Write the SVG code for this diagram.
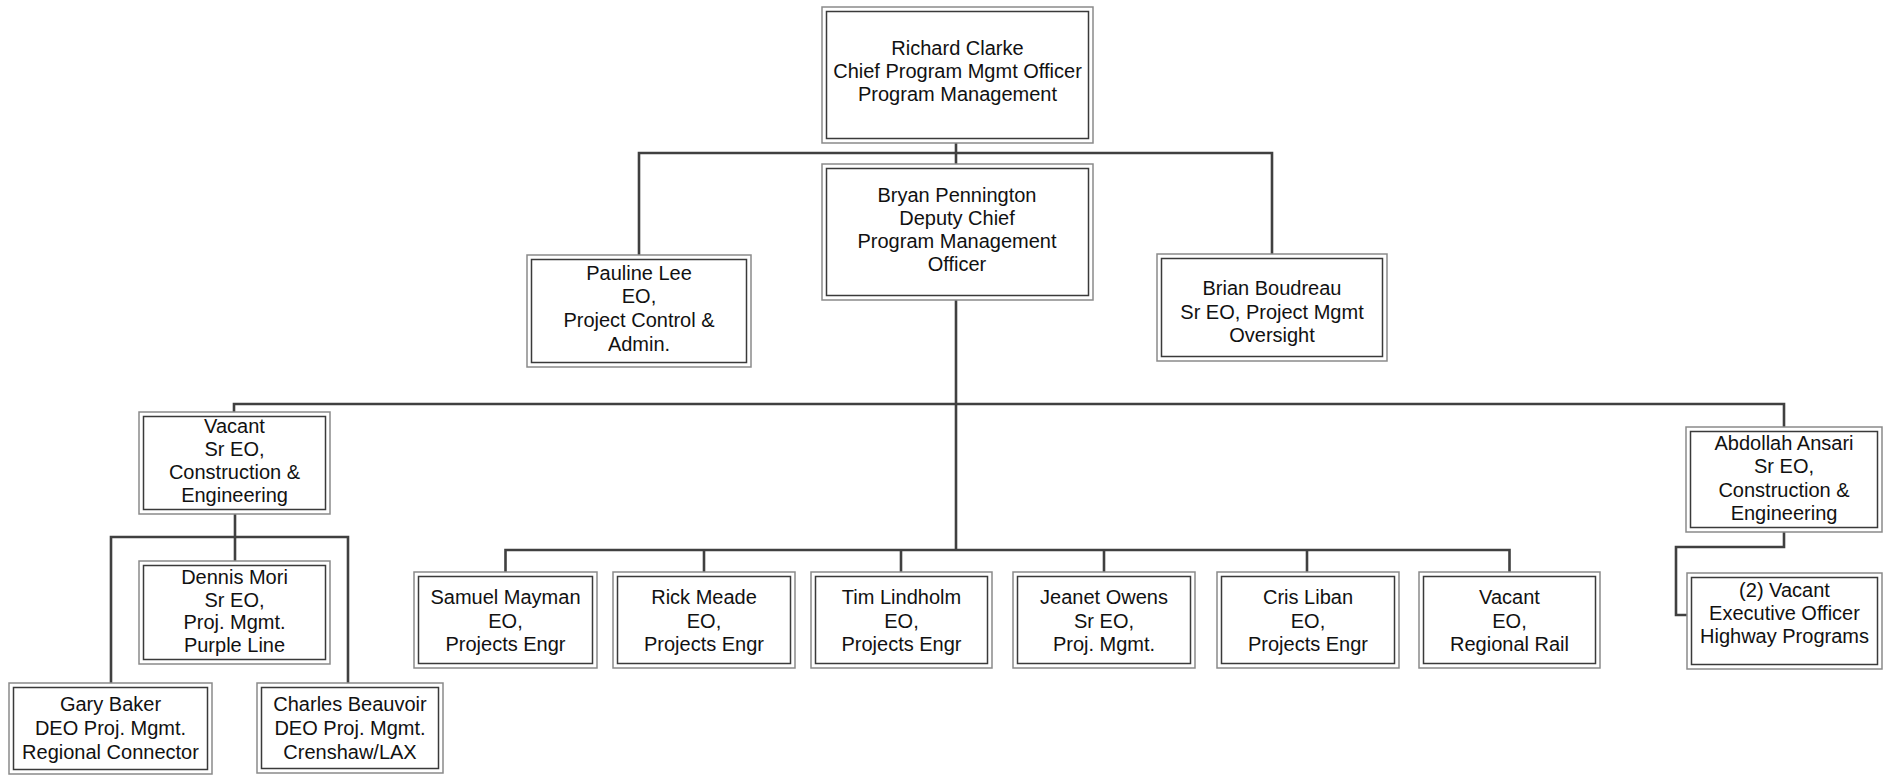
<svg xmlns="http://www.w3.org/2000/svg" width="1887" height="775" viewBox="0 0 1887 775">
<style>
.o{fill:#fff;stroke:#8a8a8a;stroke-width:1.5}
.i{fill:none;stroke:#3a3a3a;stroke-width:1.5}
text{font-family:"Liberation Sans",Arial,sans-serif;font-size:20px;fill:#111;text-anchor:middle}
.c{fill:none;stroke:#404040;stroke-width:2.6}
</style>
<rect width="1887" height="775" fill="#fff"/>
<g id="connectors">
<path class="c" d="M956 143V164M639 255V153H1272V254"/>
<path class="c" d="M956 300V550M234 412V404H1784V427"/>
<path class="c" d="M505.5 572V550H1509.5V572M704 550V572M901 550V572M1104 550V572M1307 550V572"/>
<path class="c" d="M235 514V561M111 683V537H348V683"/>
<path class="c" d="M1784 532V547H1676V615H1687"/>
</g>
<g id="clarke"><rect class="o" x="822" y="7" width="271" height="136"/><rect class="i" x="826.5" y="11.5" width="262" height="127"/>
<text x="957.5" y="55">Richard Clarke</text><text x="957.5" y="78">Chief Program Mgmt Officer</text><text x="957.5" y="101">Program Management</text></g>
<g id="pennington"><rect class="o" x="822" y="164" width="271" height="136"/><rect class="i" x="826.5" y="168.5" width="262" height="127"/>
<text x="957" y="201.5">Bryan Pennington</text><text x="957" y="224.5">Deputy Chief</text><text x="957" y="247.5">Program Management</text><text x="957" y="271">Officer</text></g>
<g id="lee"><rect class="o" x="527" y="255" width="224" height="112"/><rect class="i" x="531.5" y="259.5" width="215" height="103"/>
<text x="639" y="279.5">Pauline Lee</text><text x="639" y="303">EO,</text><text x="639" y="327">Project Control &amp;</text><text x="639" y="351">Admin.</text></g>
<g id="boudreau"><rect class="o" x="1157" y="254" width="230" height="107"/><rect class="i" x="1161.5" y="258.5" width="221" height="98"/>
<text x="1272" y="295">Brian Boudreau</text><text x="1272" y="318.5">Sr EO, Project Mgmt</text><text x="1272" y="342">Oversight</text></g>
<g id="vacant-ce"><rect class="o" x="139" y="412" width="191" height="102"/><rect class="i" x="143.5" y="416.5" width="182" height="93"/>
<text x="234.5" y="432.5">Vacant</text><text x="234.5" y="455.8">Sr EO,</text><text x="234.5" y="479">Construction &amp;</text><text x="234.5" y="502.3">Engineering</text></g>
<g id="ansari"><rect class="o" x="1686" y="427" width="196" height="105"/><rect class="i" x="1690.5" y="431.5" width="187" height="96"/>
<text x="1784" y="450">Abdollah Ansari</text><text x="1784" y="473.3">Sr EO,</text><text x="1784" y="496.7">Construction &amp;</text><text x="1784" y="520">Engineering</text></g>
<g id="mori"><rect class="o" x="139" y="561" width="191" height="103"/><rect class="i" x="143.5" y="565.5" width="182" height="94"/>
<text x="234.5" y="584">Dennis Mori</text><text x="234.5" y="606.7">Sr EO,</text><text x="234.5" y="629.3">Proj. Mgmt.</text><text x="234.5" y="652">Purple Line</text></g>
<g id="baker"><rect class="o" x="9" y="683" width="203" height="91"/><rect class="i" x="13.5" y="687.5" width="194" height="82"/>
<text x="110.5" y="711">Gary Baker</text><text x="110.5" y="735">DEO Proj. Mgmt.</text><text x="110.5" y="758.5">Regional Connector</text></g>
<g id="beauvoir"><rect class="o" x="257" y="683" width="186" height="90"/><rect class="i" x="261.5" y="687.5" width="177" height="81"/>
<text x="350" y="711">Charles Beauvoir</text><text x="350" y="735">DEO Proj. Mgmt.</text><text x="350" y="758.5">Crenshaw/LAX</text></g>
<g id="mayman"><rect class="o" x="414" y="572" width="183" height="96"/><rect class="i" x="418.5" y="576.5" width="174" height="87"/>
<text x="505.5" y="604">Samuel Mayman</text><text x="505.5" y="627.5">EO,</text><text x="505.5" y="651">Projects Engr</text></g>
<g id="meade"><rect class="o" x="613" y="572" width="182" height="96"/><rect class="i" x="617.5" y="576.5" width="173" height="87"/>
<text x="704" y="604">Rick Meade</text><text x="704" y="627.5">EO,</text><text x="704" y="651">Projects Engr</text></g>
<g id="lindholm"><rect class="o" x="811" y="572" width="181" height="96"/><rect class="i" x="815.5" y="576.5" width="172" height="87"/>
<text x="901.5" y="604">Tim Lindholm</text><text x="901.5" y="627.5">EO,</text><text x="901.5" y="651">Projects Engr</text></g>
<g id="owens"><rect class="o" x="1013" y="572" width="182" height="96"/><rect class="i" x="1017.5" y="576.5" width="173" height="87"/>
<text x="1104" y="604">Jeanet Owens</text><text x="1104" y="627.5">Sr EO,</text><text x="1104" y="651">Proj. Mgmt.</text></g>
<g id="liban"><rect class="o" x="1217" y="572" width="182" height="96"/><rect class="i" x="1221.5" y="576.5" width="173" height="87"/>
<text x="1308" y="604">Cris Liban</text><text x="1308" y="627.5">EO,</text><text x="1308" y="651">Projects Engr</text></g>
<g id="vacant-rail"><rect class="o" x="1419" y="572" width="181" height="96"/><rect class="i" x="1423.5" y="576.5" width="172" height="87"/>
<text x="1509.5" y="604">Vacant</text><text x="1509.5" y="627.5">EO,</text><text x="1509.5" y="651">Regional Rail</text></g>
<g id="vacant-hwy"><rect class="o" x="1687" y="573" width="195" height="96"/><rect class="i" x="1691.5" y="577.5" width="186" height="87"/>
<text x="1784.5" y="596.7">(2) Vacant</text><text x="1784.5" y="620">Executive Officer</text><text x="1784.5" y="643.3">Highway Programs</text></g>
</svg>
